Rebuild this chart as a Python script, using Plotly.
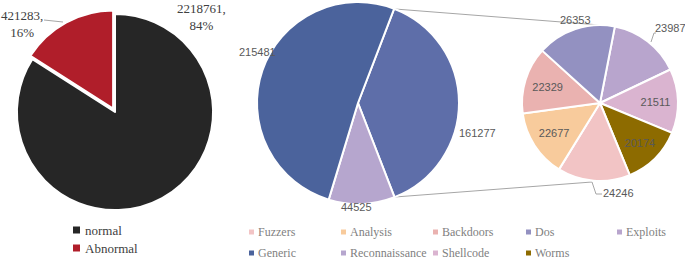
import plotly.graph_objects as go

W, H = 685, 259

# ---- data ----
bin_labels = ["normal", "Abnormal"]
bin_values = [2218761, 421283]
bin_colors = ["#262626", "#B01E2A"]

main_labels = ["Other attacks", "Exploits", "Generic"]
main_values = [161277, 44525, 215481]
main_colors = ["#5E6EA9", "#B6A6CE", "#4B639C"]

sub_labels = ["Reconnaissance", "Shellcode", "Worms", "Fuzzers", "Analysis", "Backdoors", "Dos"]
sub_values = [23987, 21511, 20174, 24246, 22677, 22329, 26353]
sub_colors = ["#B8A5CD", "#DAB4D0", "#8D6B00", "#F2C4C5", "#F8CB9C", "#EAB2B0", "#9391C1"]

legend_labels = ["Fuzzers", "Analysis", "Backdoors", "Dos", "Exploits",
                 "Generic", "Reconnaissance", "Shellcode", "Worms"]
legend_colors = ["#F2C4C5", "#F8CB9C", "#EAB2B0", "#9391C1", "#B8A5CD",
                 "#4B639C", "#B6A6CE", "#DAB4D0", "#8D6B00"]

# ---- layout helpers (pixel positions of labels, not data) ----
sub_inside = [False, True, True, False, True, True, False]
main_label_pos = [(477, 133), (356, 207), (257, 52)]
sub_label_pos = {0: (670, 28), 3: (618, 193), 6: (575, 20)}


def px(x):
    return x / W


def py(y):
    return 1 - y / H


fig = go.Figure()

# left pie
fig.add_trace(go.Pie(
    labels=bin_labels, values=bin_values, sort=False, direction="clockwise", rotation=0,
    marker=dict(colors=bin_colors, line=dict(color="white", width=2)),
    pull=[0, 0.04], textinfo="none", hoverinfo="label+value+percent", showlegend=False,
    domain=dict(x=[px(13), px(217)], y=[py(214), py(10)]),
))

# middle pie
fig.add_trace(go.Pie(
    labels=main_labels, values=main_values, sort=False, direction="clockwise", rotation=21,
    marker=dict(colors=main_colors, line=dict(color="white", width=2)),
    textinfo="none", showlegend=False,
    domain=dict(x=[px(257), px(459)], y=[py(204), py(2)]),
))

# right pie
fig.add_trace(go.Pie(
    labels=sub_labels, values=sub_values, sort=False, direction="clockwise", rotation=11,
    marker=dict(colors=sub_colors, line=dict(color="white", width=2)),
    text=[str(v) if ins else "" for v, ins in zip(sub_values, sub_inside)],
    textinfo="text", textposition=["inside" if ins else "none" for ins in sub_inside],
    insidetextfont=dict(family="Liberation Sans", size=11, color="#595959"),
    insidetextorientation="horizontal",
    showlegend=False,
    domain=dict(x=[px(522), px(678)], y=[py(181), py(25)]),
))

annotations = []
shapes = []
num_font = dict(family="Liberation Sans", size=11, color="#595959")
grey_line = dict(color="#A6A6A6", width=1)

# middle pie labels
for v, (x, y) in zip(main_values, main_label_pos):
    annotations.append(dict(x=px(x), y=py(y), xref="paper", yref="paper", text=str(v),
                            showarrow=False, xanchor="center", yanchor="middle", font=num_font))

# right pie outside labels
for i, (x, y) in sub_label_pos.items():
    annotations.append(dict(x=px(x), y=py(y), xref="paper", yref="paper", text=str(sub_values[i]),
                            showarrow=False, xanchor="center", yanchor="middle", font=num_font))
# leader lines of right pie
shapes.append(dict(type="path", xref="paper", yref="paper",
                   path=f"M {px(651)},{py(42)} L {px(654)},{py(33)} L {px(656)},{py(33)}", line=grey_line))
shapes.append(dict(type="path", xref="paper", yref="paper",
                   path=f"M {px(592)},{py(182)} L {px(596)},{py(194)} L {px(602)},{py(194)}", line=grey_line))

# left pie labels
tot = sum(bin_values)
serif = dict(family="Liberation Serif", size=13, color="#404040")
annotations.append(dict(x=px(201), y=py(17), xref="paper", yref="paper",
                        text=f"{bin_values[0]},<br>{bin_values[0]/tot:.0%}",
                        showarrow=False, xanchor="center", yanchor="middle", font=serif, align="center"))
annotations.append(dict(x=px(22), y=py(24), xref="paper", yref="paper",
                        text=f"{bin_values[1]},<br>{bin_values[1]/tot:.0%}",
                        showarrow=False, xanchor="center", yanchor="middle", font=serif, align="center"))
shapes.append(dict(type="line", xref="paper", yref="paper", x0=px(44), y0=py(20), x1=px(63), y1=py(22),
                   line=grey_line))

# left legend
for i, (lab, col) in enumerate(zip(bin_labels, bin_colors)):
    yy = 230 + i * 18
    shapes.append(dict(type="rect", xref="paper", yref="paper", x0=px(73), x1=px(80),
                       y0=py(yy + 3.5), y1=py(yy - 3.5), fillcolor=col, line=dict(width=0)))
    annotations.append(dict(x=px(83), y=py(yy), xref="paper", yref="paper", text=lab,
                            showarrow=False, xanchor="left", yanchor="middle",
                            font=dict(family="Liberation Serif", size=13, color="#404040")))

# bottom legend
col_sq = [249, 341, 433, 526, 617]
row_y = [232, 253]
for i, (lab, col) in enumerate(zip(legend_labels, legend_colors)):
    r, c = divmod(i, 5)
    x0 = col_sq[c]
    yy = row_y[r]
    shapes.append(dict(type="rect", xref="paper", yref="paper", x0=px(x0), x1=px(x0 + 5),
                       y0=py(yy + 2.5), y1=py(yy - 2.5), fillcolor=col, line=dict(width=0)))
    annotations.append(dict(x=px(x0 + 7), y=py(yy), xref="paper", yref="paper", text=lab,
                            showarrow=False, xanchor="left", yanchor="middle",
                            font=dict(family="Liberation Serif", size=12, color="#7F7F7F")))

# connector lines between pies
shapes.append(dict(type="line", xref="paper", yref="paper", x0=px(395), y0=py(9), x1=px(600), y1=py(25),
                   line=grey_line, layer="below"))
shapes.append(dict(type="line", xref="paper", yref="paper", x0=px(395), y0=py(197), x1=px(592), y1=py(182),
                   line=grey_line, layer="below"))

fig.update_layout(
    width=W, height=H, margin=dict(l=0, r=0, t=0, b=0),
    paper_bgcolor="white", plot_bgcolor="white",
    annotations=annotations, shapes=shapes,
)

fig.write_html("out.html", config={"displayModeBar": False},
               post_script="document.body.style.margin='0';")
